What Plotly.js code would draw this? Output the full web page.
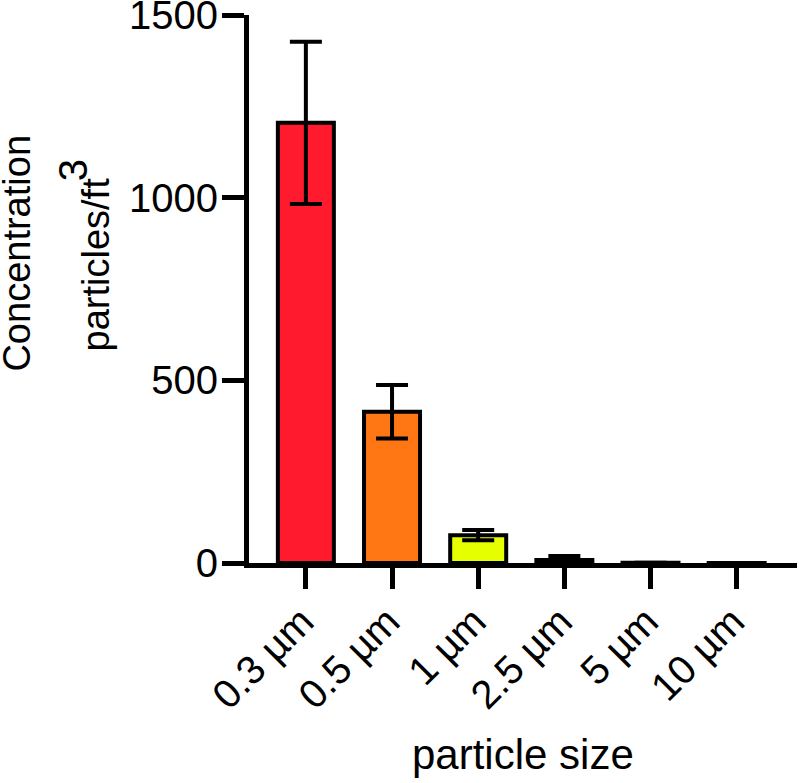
<!DOCTYPE html>
<html>
<head>
<meta charset="utf-8">
<script src="https://cdn.plot.ly/plotly-3.0.1.min.js"></script>
<style>
  body { margin: 0; background: #fff; }
  #chart { width: 799px; height: 783px; }
</style>
</head>
<body>
<div id="chart"></div>
<script>
var sizes = ["0.3 µm", "0.5 µm", "1 µm", "2.5 µm", "5 µm", "10 µm"];
var means = [1205, 414, 76, 8, 0.4, 0.2];
var sds = [222, 73, 14, 11, 0.3, 0.1];
var barColors = ["#FF1A2E", "#FF7615", "#E5FF00", "#66FF1A", "#1AFFD5", "#1A6BFF"];

var trace = {
  type: "bar",
  x: sizes,
  y: means,
  width: 0.65,
  marker: {
    color: barColors,
    line: { color: "#000", width: 4 }
  },
  error_y: {
    type: "data",
    array: sds,
    visible: true,
    color: "#000",
    thickness: 4,
    width: 16
  },
  hoverinfo: "x+y"
};

var fontFam = "Liberation Sans, Arial, sans-serif";

// y title is two lines with a big raised "3", so it is laid out by hand
var yTitle1 = "Concentration";
var yTitle2 = "particles/ft";
var yTitleExp = "3";

var layout = {
  width: 799,
  height: 783,
  margin: { l: 249, r: 2, t: 15, b: 220 },
  paper_bgcolor: "#fff",
  plot_bgcolor: "#fff",
  showlegend: false,
  font: { family: fontFam, size: 40, color: "#000" },
  xaxis: {
    type: "category",
    range: [-0.66, 5.7],
    showline: true,
    linewidth: 5,
    linecolor: "#000",
    ticks: "outside",
    ticklen: 21,
    tickwidth: 5,
    tickcolor: "#000",
    tickangle: -45,
    ticklabelstandoff: -7,
    ticklabelshift: -4,
    tickfont: { family: fontFam, size: 40, color: "#000" },
    showgrid: false,
    zeroline: false
  },
  yaxis: {
    range: [0, 1500],
    tickvals: [0, 500, 1000, 1500],
    showline: true,
    linewidth: 5,
    linecolor: "#000",
    ticks: "outside",
    ticklen: 22,
    tickwidth: 5,
    tickcolor: "#000",
    ticklabelstandoff: -4,
    ticklabeloverflow: "allow",
    tickfont: { family: fontFam, size: 40, color: "#000" },
    showgrid: false,
    zeroline: false
  },
  annotations: [
    {
      text: yTitle1,
      textangle: -90,
      xref: "paper", yref: "paper",
      x: -0.423, y: 0.565,
      xanchor: "center", yanchor: "middle",
      showarrow: false,
      font: { family: fontFam, size: 38, color: "#000" }
    },
    {
      text: yTitle2,
      textangle: -90,
      xref: "paper", yref: "paper",
      x: -0.279, y: 0.545,
      xanchor: "center", yanchor: "middle",
      showarrow: false,
      font: { family: fontFam, size: 38, color: "#000" }
    },
    {
      text: yTitleExp,
      textangle: -90,
      xref: "paper", yref: "paper",
      x: -0.322, y: 0.716,
      xanchor: "center", yanchor: "middle",
      showarrow: false,
      font: { family: fontFam, size: 40, color: "#000" }
    },
    {
      text: "particle size",
      xref: "paper", yref: "paper",
      x: 0.5, y: -0.35,
      xanchor: "center", yanchor: "middle",
      showarrow: false,
      font: { family: fontFam, size: 42, color: "#000" }
    }
  ]
};

Plotly.newPlot("chart", [trace], layout, { displayModeBar: false });
</script>
</body>
</html>
